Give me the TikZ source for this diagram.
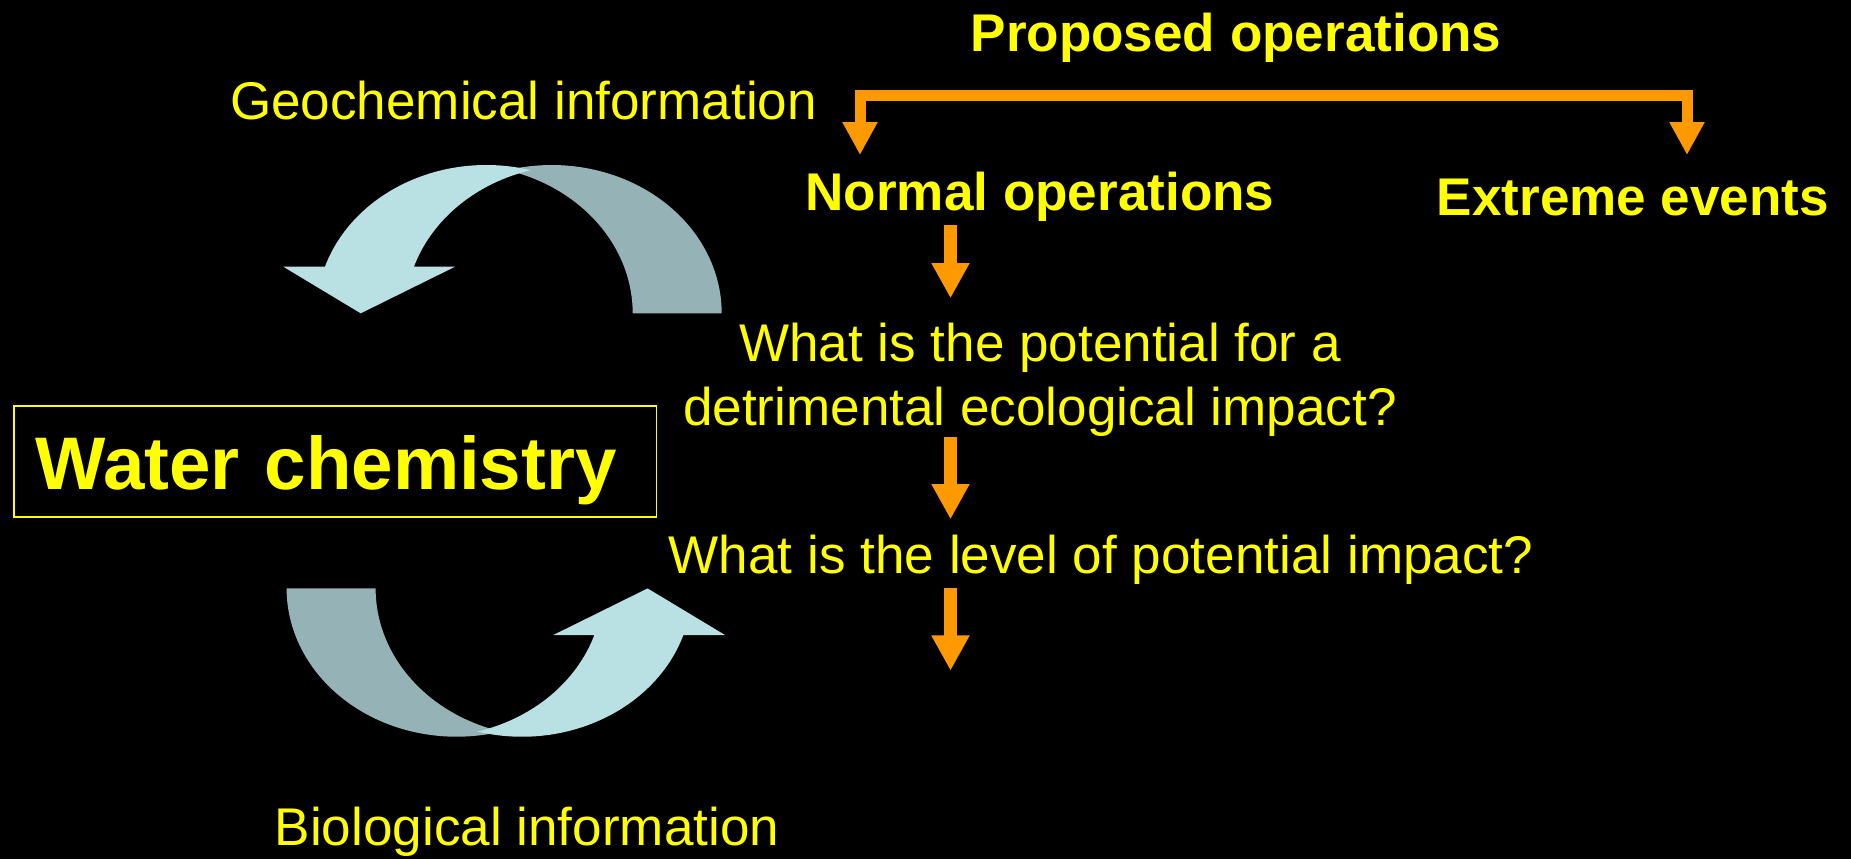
\documentclass[tikz,border=0pt]{standalone}
\usepackage{fontspec}
\setmainfont{Liberation Sans}
\usetikzlibrary{arrows.meta}
\definecolor{lightband}{HTML}{B9E0E3}
\definecolor{darkband}{HTML}{95B3B6}
\definecolor{floworange}{HTML}{FF9900}
\definecolor{txtyellow}{HTML}{FFFF00}
\begin{document}
\begin{tikzpicture}[
	txt/.style={text=txtyellow, inner sep=0pt, font=\fontsize{15.1pt}{18pt}\selectfont},
	boldtxt/.style={txt, font=\fontsize{15.1pt}{18pt}\selectfont\bfseries},
	waterbox/.style={draw=txtyellow, line width=0.5pt, text=txtyellow, font=\fontsize{21.2pt}{25pt}\selectfont\bfseries,
		minimum height=1.11cm, text width=5.993cm, align=left, inner xsep=0.217cm, text height=0.62cm, text depth=0.06cm},
	flow/.style={floworange, line width=0.123cm, -{Triangle[length=0.353cm 0, width=0.357cm 0]}},
	bracket/.style={floworange, line width=0.11cm, line join=miter, {Triangle[length=0.33cm 0, width=0.33cm 0]}-{Triangle[length=0.33cm 0, width=0.33cm 0]}},
	]
	\fill[black] (0,0) rectangle (18.51,-8.59); % background
	\useasboundingbox (0,0) rectangle (18.51,-8.59);
	% curved arrows, back band first then front arrow
	\foreach \cx/\cy/\rot in {5.025/-2.392/0, 5.058/-6.625/180}{
		\begin{scope}[shift={(\cx,\cy)}, rotate=\rot]
			\fill[darkband] (2.192,-0.741) arc[start angle=0, end angle=105.18, x radius=1.7, y radius=1.483]
				arc[start angle=74.82, end angle=0, x radius=1.7, y radius=1.483] -- cycle;
			\fill[lightband] ([shift={(-0.162,-0.741)}]161.69:1.7 and 1.483)
				arc[start angle=161.69, end angle=74.82, x radius=1.7, y radius=1.483]
				arc[start angle=105.18, end angle=161.69, x radius=1.7, y radius=1.483]
				-- (-0.475,-0.275) -- (-1.418,-0.741) -- (-2.192,-0.275) -- cycle;
		\end{scope}
	}
	% texts
	\node[boldtxt, anchor=base] (proposed) at (12.36,-0.51) {Proposed operations};
	\node[txt, anchor=base] (geo) at (5.235,-1.193) {Geochemical information};
	\node[boldtxt, anchor=base] (normal) at (10.40,-2.10) {Normal operations};
	\node[boldtxt, anchor=base] (extreme) at (16.33,-2.15) {Extreme events};
	\node[txt, anchor=base, align=center] (potential) at (10.40,-4.25) {What is the potential for a\\detrimental ecological impact?};
	\node[txt, anchor=base] (level) at (11.01,-5.733) {What is the level of potential impact?};
	\node[txt, anchor=base] (bio) at (5.27,-8.45) {Biological information};
	\node[waterbox, anchor=west] (water) at (0.13,-4.612) {Water chemistry};
	% proposed operations split
	\coordinate (bl) at (8.60,-1.55);
	\coordinate (bk) at (12.735,-0.955);
	\coordinate (br) at (16.87,-1.55);
	\draw[bracket] (bl) |- (bk) -| (br);
	% normal operations chain
	\foreach \ya/\yb [count=\i] in {-2.25/-2.983, -4.367/-5.193, -5.877/-6.707}{
		\coordinate (s\i) at (9.505,\ya);
		\coordinate (e\i) at (9.505,\yb);
		\draw[flow] (s\i) -- (e\i);
	}
\end{tikzpicture}
\end{document}
